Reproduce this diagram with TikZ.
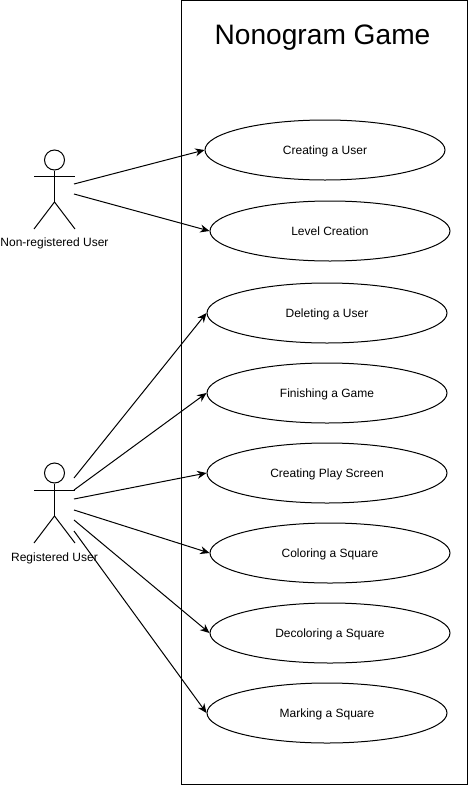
\documentclass[tikz,border=0pt]{standalone}
\usepackage{fontspec}
\setmainfont{Liberation Sans}
\usetikzlibrary{shapes.geometric,arrows.meta}
\tikzset{
  usecase/.style={draw,ellipse,inner sep=0pt,minimum width=180pt,minimum height=45pt,text height=6.5pt,text depth=0.3pt,font=\fontsize{9}{11}\selectfont},
  actorlabel/.style={inner sep=0pt,text height=6.5pt,text depth=0.3pt,font=\fontsize{9}{11}\selectfont},
  head/.style={draw,circle,inner sep=0pt,minimum size=15pt},
  link/.style={-{Stealth[length=7pt,width=6pt]}}
}
\begin{document}
\begin{tikzpicture}[x=0.75pt,y=-0.75pt,line width=0.75pt]
            \useasboundingbox (0,0) rectangle (468,785);

            % System frame
            \draw (181.5,0.5) rectangle (467.5,784.5);
            \node[inner sep=0pt,font=\fontsize{21.1}{25}\selectfont] (title) at (322.5,37.5) {Nonogram Game};

            % Use cases
            \node[usecase] (createuser) at (325,150) {Creating a User};
            \node[usecase] (level) at (330,231) {Level Creation};
            \node[usecase] (deleteuser) at (327,313) {Deleting a User};
            \node[usecase] (finish) at (327,393) {Finishing a Game};
            \node[usecase] (playscreen) at (327,473) {Creating Play Screen};
            \node[usecase] (color) at (330,553) {Coloring a Square};
            \node[usecase] (decolor) at (330,633) {Decoloring a Square};
            \node[usecase] (mark) at (327,713) {Marking a Square};

            % First actor
            \node[head] (head1) at (54.5,160) {};
            \coordinate (hip1) at (54.5,202);
            \coordinate (arml1) at (34,176);
            \coordinate (armr1) at (75,176);
            \coordinate (footl1) at (34,229);
            \coordinate (footr1) at (75,229);
            \draw (head1) -- (hip1);
            \draw (arml1) -- (armr1);
            \draw (footl1) -- (hip1) -- (footr1);
            \node[actorlabel] (actor1) at (54.5,242.5) {Non-registered User};

            % Second actor
            \node[head] (head2) at (54.5,473) {};
            \coordinate (hip2) at (54.5,516);
            \coordinate (arml2) at (34,490);
            \coordinate (armr2) at (75,490);
            \coordinate (footl2) at (34,543);
            \coordinate (footr2) at (75,543);
            \draw (head2) -- (hip2);
            \draw (arml2) -- (armr2);
            \draw (footl2) -- (hip2) -- (footr2);
            \node[actorlabel] (actor2) at (54.5,557) {Registered User};

            % Connectors
            \coordinate (from1a) at (74,184);
            \coordinate (from1b) at (74,194);
            \draw[link] (from1a) -- (createuser.west);
            \draw[link] (from1b) -- (level.west);

            \coordinate (from2a) at (74,478);
            \coordinate (from2b) at (74,490);
            \coordinate (from2c) at (74,499);
            \coordinate (from2d) at (74,510);
            \coordinate (from2e) at (74,520);
            \coordinate (from2f) at (74,531);
            \draw[link] (from2a) -- (deleteuser.west);
            \draw[link] (from2b) -- (finish.west);
            \draw[link] (from2c) -- (playscreen.west);
            \draw[link] (from2d) -- (color.west);
            \draw[link] (from2e) -- (decolor.west);
            \draw[link] (from2f) -- (mark.west);

\end{tikzpicture}
\end{document}
